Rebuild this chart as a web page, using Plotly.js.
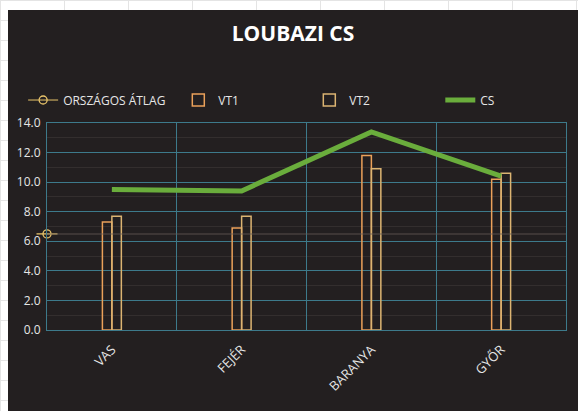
<!DOCTYPE html>
<html><head><meta charset="utf-8">
<script src="https://cdn.plot.ly/plotly-3.0.1.min.js"></script>
<style>
html,body{margin:0;padding:0;width:578px;height:411px;overflow:hidden;
background-color:#ffffff;
background-image:linear-gradient(to right,#e4e4e4 1px,transparent 1px),linear-gradient(to bottom,#e4e4e4 1px,transparent 1px);
background-size:64px 20px;}
#chart{position:absolute;left:8px;top:10px;width:570px;height:401px;}
</style></head>
<body><div id="chart"></div>
<script>
const categories = ['VAS', 'FEJÉR', 'BARANYA', 'GYŐR'];
const vt1 = [7.3, 6.9, 11.8, 10.2];
const vt2 = [7.7, 7.7, 10.9, 10.6];
const cs = [9.5, 9.4, 13.4, 10.4];
const nationalAvg = 6.5;
const yTicks = [0, 2, 4, 6, 8, 10, 12, 14];

const gridTeal = '#3d7a8b';
const fontFam = '"Open Sans", "DejaVu Sans", sans-serif';

const traces = [
  { // national average legend + marker
    name: 'ORSZÁGOS ÁTLAG', type: 'scatter', mode: 'lines+markers', legend: 'legend',
    x: [-0.5], y: [nationalAvg], xaxis: 'x2', cliponaxis: false,
    line: {color: '#e8c36a', width: 1},
    marker: {symbol: 'circle-open', size: 8, color: '#e8c36a', line: {width: 1.3}}
  },
  { // horizontal line through the marker
    type: 'scatter', mode: 'markers', showlegend: false, hoverinfo: 'skip',
    x: [-0.5], y: [nationalAvg], xaxis: 'x2', cliponaxis: false,
    marker: {symbol: 'line-ew-open', size: 15, color: '#e8c36a', line: {width: 1.3, color: '#e8c36a'}}
  },
  { // national average line across the plot
    type: 'scatter', mode: 'lines', showlegend: false, hoverinfo: 'skip',
    x: [-0.5, 3.5], y: [nationalAvg, nationalAvg], xaxis: 'x2',
    line: {color: 'rgba(100,90,86,0.4)', width: 2}
  },
  {
    name: 'VT1', type: 'bar', x: categories, y: vt1, legend: 'legend2',
    marker: {color: 'rgba(0,0,0,0)', line: {color: '#eba15a', width: 1.5}}
  },
  {
    name: 'VT2', type: 'bar', x: categories, y: vt2, legend: 'legend2',
    marker: {color: 'rgba(0,0,0,0)', line: {color: '#dcb472', width: 1.5}}
  },
  {
    name: 'CS', type: 'scatter', mode: 'lines', x: categories, y: cs, legend: 'legend2',
    line: {color: '#6aad3c', width: 5}
  }
];

const legendFont = {family: fontFam, size: 12, color: '#e6e6e6'};
const layout = {
  width: 570, height: 401,
  paper_bgcolor: '#231f20', plot_bgcolor: '#231f20',
  margin: {l: 38.5, r: 12, t: 113, b: 81, autoexpand: false},
  font: {family: fontFam, color: '#e6e6e6', size: 12},
  title: {text: '<b>LOUBAZI CS</b>', x: 0.5, xanchor: 'center', y: 0.94, yanchor: 'middle',
          font: {family: fontFam, size: 21, color: '#ffffff'}},
  barmode: 'group', bargap: 0.854, bargroupgap: 0,
  showlegend: true,
  legend: {orientation: 'h', x: -0.046, xanchor: 'left', y: 1.111, yanchor: 'middle',
           font: legendFont, bgcolor: 'rgba(0,0,0,0)', itemwidth: 30},
  legend2: {orientation: 'h', x: 0.253, xanchor: 'left', y: 1.111, yanchor: 'middle',
           entrywidth: 86, entrywidthmode: 'pixels',
           font: legendFont, bgcolor: 'rgba(0,0,0,0)', traceorder: 'normal', itemwidth: 30},
  xaxis: {type: 'category', categoryarray: categories, range: [-0.5, 3.5],
          tickson: 'boundaries', showgrid: true, gridcolor: gridTeal, gridwidth: 1,
          showline: true, linecolor: gridTeal, mirror: true, ticks: '',
          tickangle: -45, ticklabelstandoff: 6,
          tickfont: {family: fontFam, size: 13, color: '#e6e6e6'}, zeroline: false},
  xaxis2: {overlaying: 'x', range: [-0.5, 3.5], visible: false, type: 'linear',
           showgrid: false, zeroline: false},
  yaxis: {range: [0, 14], tickvals: yTicks, tickformat: '.1f', showgrid: true,
          gridcolor: gridTeal, gridwidth: 1, showline: true, linecolor: gridTeal, mirror: true,
          ticks: '', zeroline: false, ticklabelstandoff: 3,
          minor: {dtick: 1, showgrid: true, gridcolor: '#332e2e', gridwidth: 1},
          tickfont: {family: fontFam, size: 12, color: '#e6e6e6'}}
};

Plotly.newPlot('chart', traces, layout, {displayModeBar: false, staticPlot: true});
</script></body></html>
